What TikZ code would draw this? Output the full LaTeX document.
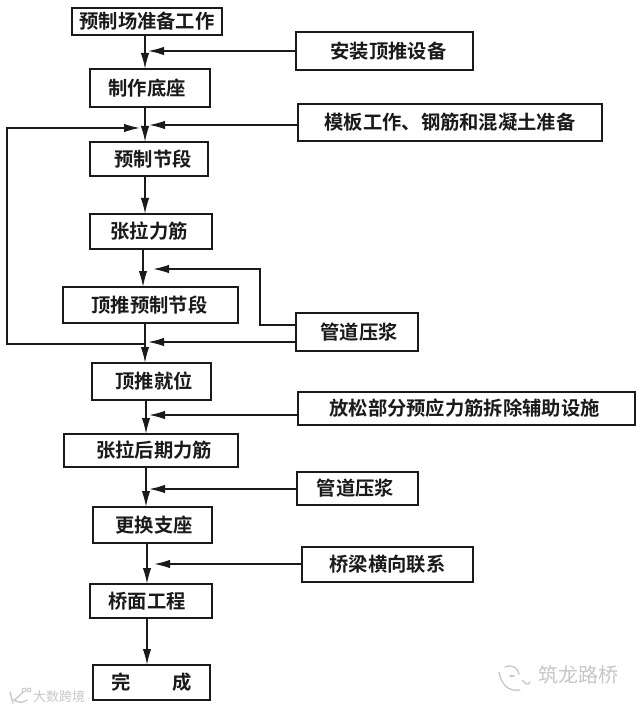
\documentclass[tikz,border=0pt]{standalone}
\usepackage{fontspec}
\setmainfont{Noto Sans CJK SC}[BoldFont={* Bold}]
\usetikzlibrary{arrows.meta}
\definecolor{ink}{HTML}{1A1A1A}
\definecolor{mark}{HTML}{C4C8C8}
\tikzset{
  x=1pt,y=-1pt,
  box/.style={draw=ink,line width=1.6pt,fill=white,inner sep=0pt,align=center,font=\fontsize{19.3}{22}\selectfont\bfseries,text=ink},
  link/.style={draw=ink,line width=1.6pt},
  flow/.style={link,-{Latex[length=16pt,width=8.5pt]}},
  wm/.style={text=mark,inner sep=0pt},
  wmline/.style={draw=mark,line width=1.3pt,line cap=round}
}
\newcommand{\bx}[6]{\node[box,minimum width=#3pt-#2pt,minimum height=#5pt-#4pt] (#1) at ({(#2+#3)/2},{(#4+#5)/2}) {#6};}
\begin{document}
\begin{tikzpicture}
\useasboundingbox (0,0) rectangle (640,708);
\fill[white] (0,0) rectangle (640,708);
\bx{a}{72}{222}{8}{35}{\hspace{0pt}预制场准备工作}
\bx{b}{296}{473}{32}{70}{\hspace{8pt}安装顶推设备}
\bx{c}{90}{210}{69}{107}{\hspace{0pt}制作底座\hspace{6pt}}
\bx{d}{298}{602}{104}{141}{模板工作、钢筋和混凝土准备}
\bx{e}{90}{208}{142}{176}{\hspace{8pt}预制节段}
\bx{f}{90}{212}{214}{249}{张拉力筋\hspace{4pt}}
\bx{g}{63}{238}{287}{323}{顶推预制节段\hspace{2pt}}
\bx{h}{296}{418}{313}{351}{\hspace{4pt}管道压浆}
\bx{i}{92}{211}{363}{400}{\hspace{5pt}顶推就位}
\bx{j}{298}{635}{392}{425}{放松部分预应力筋拆除辅助设施\hspace{4pt}}
\bx{k}{64}{238}{434}{467}{\hspace{6pt}张拉后期力筋}
\bx{l}{297}{418}{472}{505}{管道压浆\hspace{4pt}}
\bx{m}{93}{212}{507}{543}{\hspace{3pt}更换支座}
\bx{n}{302}{473}{547}{582}{\hspace{0pt}桥梁横向联系}
\bx{o}{90}{212}{584}{618}{桥面工程\hspace{8pt}}
\bx{p}{93}{210}{665}{700}{完\hspace{42pt}成}
\coordinate (j1) at (148,51);
\coordinate (j2) at (149,125);
\coordinate (j2l) at (140,128);
\coordinate (j3) at (153,269);
\coordinate (j4) at (148,342);
\coordinate (j4l) at (145,344);
\coordinate (j5) at (149,415);
\coordinate (j6) at (149,489);
\coordinate (j7) at (154,564);
\draw[flow] (145,35) -- (145,69);
\draw[flow] (145,107) -- (145,142);
\draw[flow] (145,176) -- (145,214);
\draw[flow] (143,249) -- (143,287);
\draw[flow] (145,323) -- (145,363);
\draw[flow] (146,400) -- (146,434);
\draw[flow] (146,467) -- (146,507);
\draw[flow] (147,543) -- (147,584);
\draw[flow] (147,618) -- (147,665);
\draw[flow] (b.west |- j1) -- (j1);
\draw[flow] (d.west |- j2) -- (j2);
\draw[flow] (j4l) -- (7,344) -- (7,128) -- (j2l);
\draw[flow] (h.west |- j4) -- (j4);
\draw[flow] (296,325) -- (260,325) -- (260,269) -- (j3);
\draw[flow] (j.west |- j5) -- (j5);
\draw[flow] (l.west |- j6) -- (j6);
\draw[flow] (n.west |- j7) -- (j7);
\node[wm,font=\fontsize{20}{22}\selectfont] (w1) at (578,675) {筑龙路桥};
\node[wm,font=\fontsize{13}{15}\selectfont] (w2) at (59,697) {大数跨境};
\draw[wmline] (499,672) .. controls (501,684) and (508,692) .. (520,690);
\draw[wmline] (505,667) .. controls (512,664) and (518,668) .. (519,674);
\draw[wmline] (510,676) -- (514,676);
\draw[wmline] (522,680) .. controls (526,684) and (528,686) .. (530,682);
\draw[wmline] (10,692) -- (13,703);
\draw[wmline] (23,692) .. controls (18,697) and (16,699) .. (14,700);
\draw[wmline] (14,700) .. controls (19,703) and (23,703) .. (27,700);
\draw[wmline,line width=.9pt] (24,690) circle (2);
\draw[wmline,line width=.9pt] (29,690) circle (2);
\end{tikzpicture}
\end{document}
